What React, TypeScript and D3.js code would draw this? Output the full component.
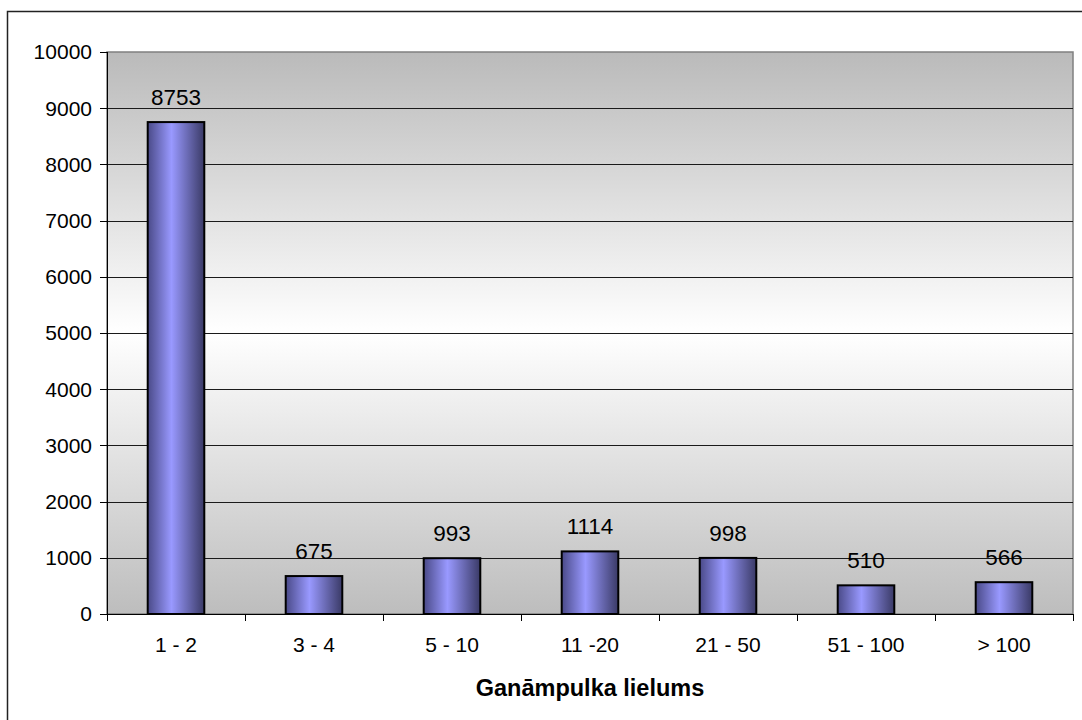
import React from "react";
import * as d3 from "d3";

const categories = ["1 - 2", "3 - 4", "5 - 10", "11 -20", "21 - 50", "51 - 100", "> 100"];
const values = [8753, 675, 993, 1114, 998, 510, 566];
const yTicks = [0, 1000, 2000, 3000, 4000, 5000, 6000, 7000, 8000, 9000, 10000];
const xTitle = "Ganāmpulka lielums";

const W = 1082;
const H = 720;
const plot = { left: 107, top: 52, right: 1073, bottom: 614 };

export default function App() {
  const x = d3
    .scaleBand<string>()
    .domain(categories)
    .range([plot.left, plot.right])
    .paddingInner(0)
    .paddingOuter(0);
  const y = d3.scaleLinear().domain([0, 10000]).range([plot.bottom, plot.top]);
  const bw = x.bandwidth();
  const barW = bw * 0.41;
  const font = "'Liberation Sans', Arial, Helvetica, sans-serif";
  const boundaries = [...categories.map((c) => x(c) as number), plot.right];

  return (
    <svg
      width={W}
      height={H}
      style={{ position: "absolute", left: 0, top: 0, display: "block" }}
      fontFamily={font}
    >
      <defs>
        <linearGradient id="bg" x1="0" y1="0" x2="0" y2="1">
          <stop offset="0%" stopColor="#bababa" />
          <stop offset="50%" stopColor="#ffffff" />
          <stop offset="100%" stopColor="#bdbdbd" />
        </linearGradient>
        <linearGradient id="bar" x1="0" y1="0" x2="1" y2="0">
          <stop offset="0%" stopColor="#4a4a88" />
          <stop offset="42%" stopColor="#9999ff" />
          <stop offset="100%" stopColor="#3a3a66" />
        </linearGradient>
      </defs>
      <rect x={0} y={0} width={W} height={H} fill="#ffffff" />
      <rect x={7.5} y={11.5} width={W + 20} height={H + 20} fill="none" stroke="#222" strokeWidth={1.5} />

      {/* plot background */}
      <rect
        x={plot.left}
        y={plot.top}
        width={plot.right - plot.left}
        height={plot.bottom - plot.top}
        fill="url(#bg)"
        stroke="#808080"
        strokeWidth={1.5}
      />

      {/* gridlines */}
      {yTicks
        .filter((t) => t > 0 && t < 10000)
        .map((t) => (
          <line
            key={"g" + t}
            x1={plot.left}
            x2={plot.right}
            y1={Math.round(y(t)) + 0.5}
            y2={Math.round(y(t)) + 0.5}
            stroke="#1a1a1a"
            strokeWidth={1}
          />
        ))}

      {/* bars */}
      {values.map((v, i) => {
        const cx = (x(categories[i]) as number) + bw / 2;
        return (
          <rect
            key={"b" + i}
            x={cx - barW / 2}
            y={y(v)}
            width={barW}
            height={plot.bottom - y(v)}
            fill="url(#bar)"
            stroke="#000"
            strokeWidth={2}
          />
        );
      })}

      {/* value labels */}
      {values.map((v, i) => {
        const cx = (x(categories[i]) as number) + bw / 2;
        return (
          <text key={"v" + i} x={cx} y={y(v) - 17} textAnchor="middle" fontSize={22.5} fill="#000">
            {v}
          </text>
        );
      })}

      {/* y axis */}
      <line x1={plot.left + 0.5} x2={plot.left + 0.5} y1={plot.top} y2={plot.bottom} stroke="#000" strokeWidth={1} />
      {yTicks.map((t) => (
        <g key={"yt" + t}>
          <line
            x1={plot.left - 7}
            x2={plot.left}
            y1={Math.round(y(t)) + 0.5}
            y2={Math.round(y(t)) + 0.5}
            stroke="#000"
          />
          <text x={plot.left - 15} y={y(t)} dy="0.35em" textAnchor="end" fontSize={21} fill="#000">
            {t}
          </text>
        </g>
      ))}

      {/* x axis */}
      <line x1={plot.left} x2={plot.right} y1={plot.bottom + 0.5} y2={plot.bottom + 0.5} stroke="#000" strokeWidth={1} />
      {boundaries.map((b, i) => (
        <line
          key={"xt" + i}
          x1={Math.round(b) + 0.5}
          x2={Math.round(b) + 0.5}
          y1={plot.bottom}
          y2={plot.bottom + 7}
          stroke="#000"
        />
      ))}
      {categories.map((c) => (
        <text
          key={"xl" + c}
          x={(x(c) as number) + bw / 2}
          y={652}
          textAnchor="middle"
          fontSize={21}
          fill="#000"
        >
          {c}
        </text>
      ))}

      <text x={590} y={696} textAnchor="middle" fontSize={23.5} fontWeight="bold" fill="#000">
        {xTitle}
      </text>
    </svg>
  );
}
